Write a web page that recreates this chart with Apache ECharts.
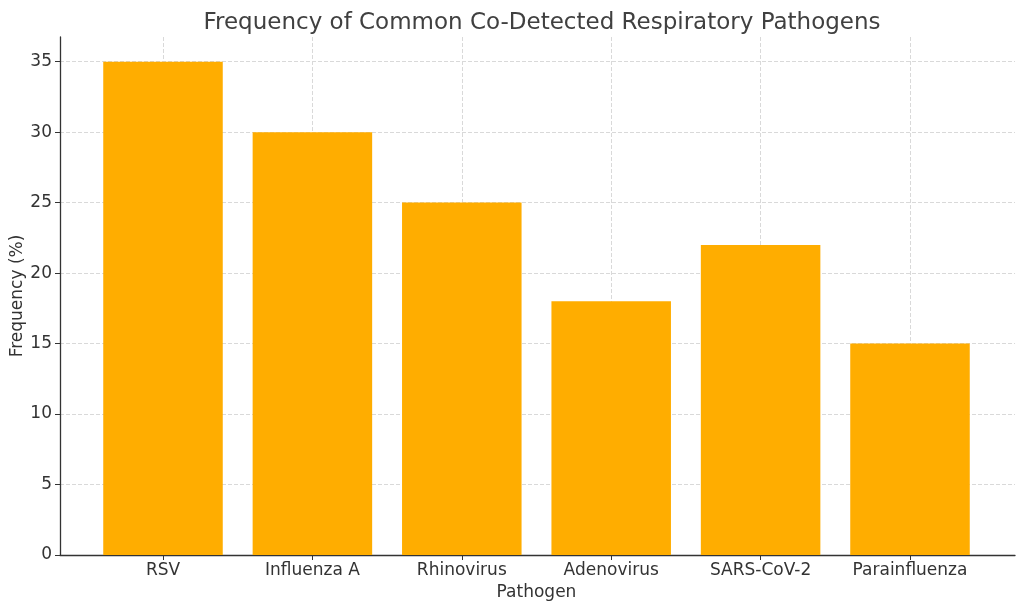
<!DOCTYPE html>
<html>
<head>
<meta charset="utf-8">
<script src="https://cdn.jsdelivr.net/npm/echarts@6/dist/echarts.min.js"></script>
<style>
  html, body { margin: 0; padding: 0; background: #fff; }
  #chart { width: 1024px; height: 611px; }
</style>
</head>
<body>
<div id="chart"></div>
<script>
var pathogens = ['RSV', 'Influenza A', 'Rhinovirus', 'Adenovirus', 'SARS-CoV-2', 'Parainfluenza'];
var frequency = [35, 30, 25, 18, 22, 15];
var yMax = 36.75;
var yStep = 5;

var font = 'DejaVu Sans';
var textColor = '#333333';
var gridLine = { show: true, showMaxLine: false, lineStyle: { color: '#d9d9d9', type: [4, 2], width: 1 } };

var chart = echarts.init(document.getElementById('chart'), null, { renderer: 'canvas' });

chart.setOption({
  animation: false,
  backgroundColor: '#ffffff',
  textStyle: { fontFamily: font },
  title: {
    text: 'Frequency of Common Co-Detected Respiratory Pathogens',
    left: 537, top: 7, textAlign: 'center',
    textStyle: { fontFamily: font, fontSize: 23, fontWeight: 'normal', color: '#404040' }
  },
  grid: [
    // bars: category points sit on the grid edges (matplotlib-style margins)
    { left: 163, right: 114, top: 37, bottom: 56, outerBoundsMode: 'none', containLabel: false },
    // full frame: spines, y ticks, horizontal grid
    { left: 60, right: 9, top: 37, bottom: 56, outerBoundsMode: 'none', containLabel: false }
  ],
  xAxis: [{
    type: 'category', gridIndex: 0, data: pathogens, boundaryGap: false,
    name: 'Pathogen', nameLocation: 'middle', nameGap: 29,
    nameTextStyle: { fontFamily: font, fontSize: 17, color: textColor },
    axisLine: { show: false },
    axisTick: { show: true, inside: false, length: 5, lineStyle: { color: '#333' } },
    axisLabel: { fontFamily: font, fontSize: 17, color: textColor, margin: 7 },
    splitLine: { show: true, lineStyle: gridLine.lineStyle }
  }, {
    type: 'value', gridIndex: 1, min: 0, max: 1,
    axisLine: { show: true, onZero: false, lineStyle: { color: '#333', width: 1.3 } },
    axisTick: { show: false }, axisLabel: { show: false }, splitLine: { show: false }
  }],
  yAxis: [{
    type: 'value', gridIndex: 0, min: 0, max: yMax, interval: yStep,
    show: false, splitLine: { show: false }
  }, {
    type: 'value', gridIndex: 1, min: 0, max: yMax, interval: yStep,
    name: 'Frequency (%)', nameLocation: 'middle', nameGap: 34, nameRotate: 90,
    nameMoveOverlap: false,
    nameTextStyle: { fontFamily: font, fontSize: 17, color: textColor },
    axisLine: { show: true, lineStyle: { color: '#333', width: 1.3 } },
    axisTick: { show: true, length: 5, lineStyle: { color: '#333' } },
    axisLabel: {
      fontFamily: font, fontSize: 17, color: textColor, margin: 8,
      showMaxLabel: false
    },
    splitLine: gridLine
  }],
  series: [{
    type: 'bar',
    xAxisIndex: 0, yAxisIndex: 0,
    data: frequency,
    barWidth: '80%',
    clip: false,
    itemStyle: { color: '#FFAD00' }
  }]
});
</script>
</body>
</html>
